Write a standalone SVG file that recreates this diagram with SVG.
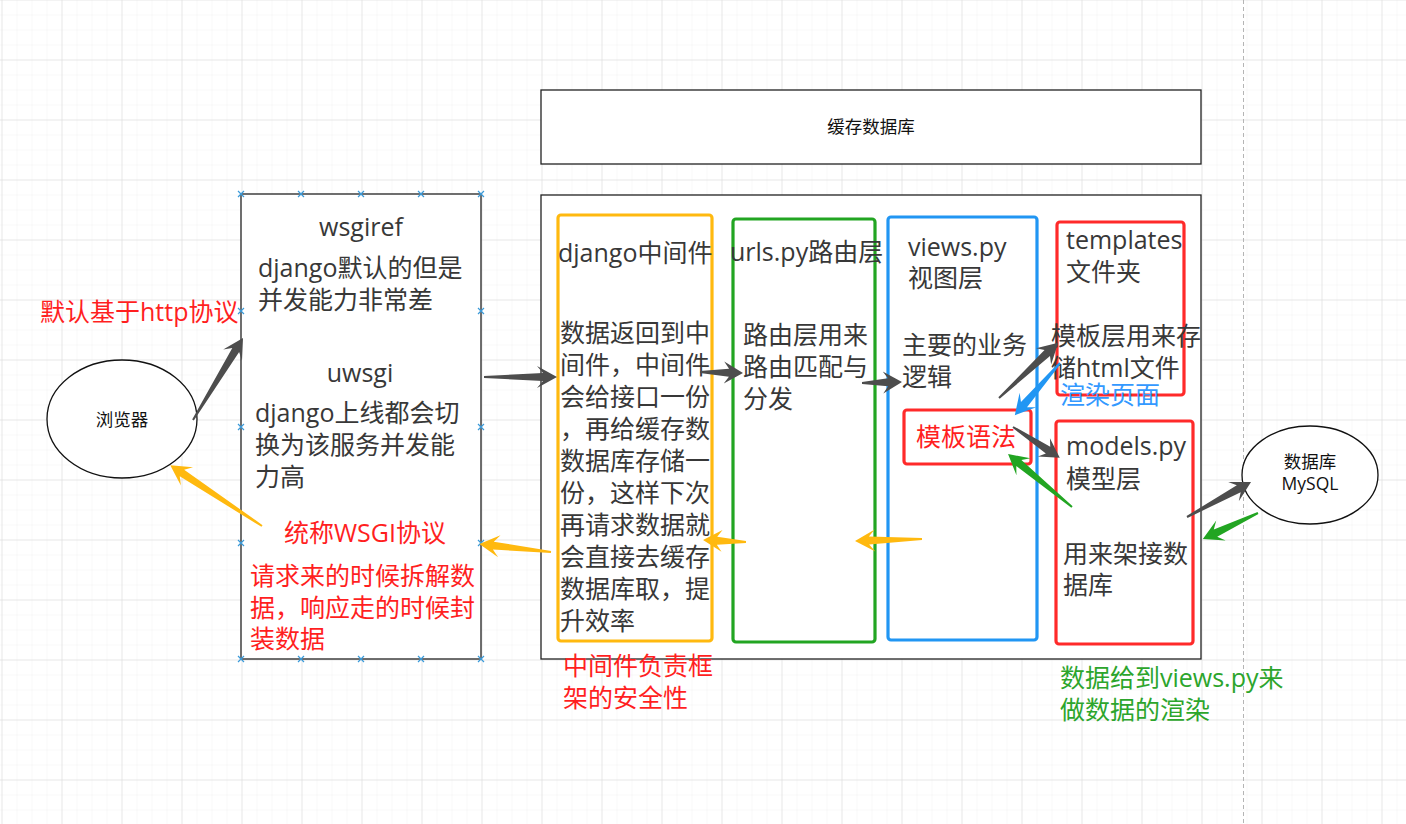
<svg xmlns="http://www.w3.org/2000/svg" width="1406" height="824" viewBox="0 0 1406 824">
<defs>
<pattern id="minor" width="15" height="15" patternUnits="userSpaceOnUse" x="1.5" y="-0.5"><path d="M0 0V15M0 0H15" stroke="#f1f1f1" stroke-width="1" fill="none"/></pattern>
<pattern id="major" width="60" height="60" patternUnits="userSpaceOnUse" x="1.5" y="-0.5"><path d="M0 0V60M0 0H60" stroke="#dadada" stroke-width="1" fill="none"/></pattern>
<path id="xm" d="M-3,-3L3,3M-3,3L3,-3" stroke="#3a9ad9" stroke-width="1.2"/>
</defs>
<style>
.t{font-family:"Open Sans","Noto Sans CJK SC",sans-serif;font-size:25px;fill:#383838}
.s{font-family:"Open Sans","Noto Sans CJK SC",sans-serif;font-size:17.5px;fill:#111}
.red{fill:#ff1f1f}
.grn{fill:#2ca52c}
.blu{fill:#3399ff}
.box{fill:#fff;stroke:#222;stroke-width:1.3}
.cb{fill:none;stroke-width:3.2}
.dark{fill:#4d4d4d}
.yel{fill:#ffb90f}
.ga{fill:#22a522}
.ba{fill:#2196f3}
</style>
<rect width="1406" height="824" fill="#fff"/>
<rect width="1406" height="824" fill="url(#minor)"/>
<rect width="1406" height="824" fill="url(#major)"/>
<line x1="1243.5" y1="0" x2="1243.5" y2="824" stroke="#b5b5b5" stroke-width="1" stroke-dasharray="4 3"/>

<g id="browser">
<ellipse cx="122" cy="419" rx="75" ry="59" fill="#fff" stroke="#111" stroke-width="1.3"/>
<text class="s" x="122" y="426" text-anchor="middle">浏览器</text>
</g>

<g id="wsgi">
<rect class="box" x="241" y="194" width="240" height="465"/>
<text class="t" x="361" y="236" text-anchor="middle">wsgiref</text>
<text class="t" x="258" y="277">django默认的但是</text>
<text class="t" x="258" y="309">并发能力非常差</text>
<text class="t" x="360" y="382" text-anchor="middle">uwsgi</text>
<text class="t" x="255" y="422">django上线都会切</text>
<text class="t" x="255" y="454">换为该服务并发能</text>
<text class="t" x="255" y="486">力高</text>
<text class="t red" x="365" y="542" text-anchor="middle">统称WSGI协议</text>
<text class="t red" x="250" y="585">请求来的时候拆解数</text>
<text class="t red" x="250" y="617">据，响应走的时候封</text>
<text class="t red" x="250" y="648">装数据</text>
<use href="#xm" x="241" y="194"/><use href="#xm" x="301" y="194"/><use href="#xm" x="361" y="194"/><use href="#xm" x="421" y="194"/><use href="#xm" x="481" y="194"/>
<use href="#xm" x="241" y="659"/><use href="#xm" x="301" y="659"/><use href="#xm" x="361" y="659"/><use href="#xm" x="421" y="659"/><use href="#xm" x="481" y="659"/>
<use href="#xm" x="241" y="311"/><use href="#xm" x="241" y="427"/><use href="#xm" x="241" y="543"/>
<use href="#xm" x="481" y="311"/><use href="#xm" x="481" y="427"/><use href="#xm" x="481" y="543"/>
</g>

<g id="http-label">
<text class="t red" x="40" y="321">默认基于http协议</text>
</g>

<g id="cache">
<rect class="box" x="541" y="90" width="660" height="74"/>
<text class="s" x="871" y="133" text-anchor="middle">缓存数据库</text>
</g>

<g id="django">
<rect class="box" x="541" y="195" width="660" height="464"/>
</g>

<g id="middleware">
<rect class="cb" x="558" y="215" width="154" height="426" rx="3" stroke="#ffb90f"/>
<text class="t" x="558" y="262">django中间件</text>
<text class="t" x="560" y="342">数据返回到中</text>
<text class="t" x="560" y="374">间件，中间件</text>
<text class="t" x="560" y="406">会给接口一份</text>
<text class="t" x="560" y="438">，再给缓存数</text>
<text class="t" x="560" y="470">数据库存储一</text>
<text class="t" x="560" y="502">份，这样下次</text>
<text class="t" x="560" y="534">再请求数据就</text>
<text class="t" x="560" y="566">会直接去缓存</text>
<text class="t" x="560" y="598">数据库取，提</text>
<text class="t" x="560" y="630">升效率</text>
<text class="t red" x="563" y="675">中间件负责框</text>
<text class="t red" x="563" y="707">架的安全性</text>
</g>

<g id="urls">
<rect class="cb" x="733" y="219" width="142" height="423" rx="3" stroke="#22a522"/>
<text class="t" x="730" y="261">urls.py路由层</text>
<text class="t" x="743" y="344">路由层用来</text>
<text class="t" x="743" y="376">路由匹配与</text>
<text class="t" x="743" y="408">分发</text>
</g>

<g id="views">
<rect class="cb" x="888" y="217" width="149" height="423" rx="3" stroke="#2196f3"/>
<text class="t" x="908" y="256">views.py</text>
<text class="t" x="908" y="287">视图层</text>
<text class="t" x="902" y="354">主要的业务</text>
<text class="t" x="902" y="386">逻辑</text>
</g>

<g id="templates">
<rect class="cb" x="1057" y="222" width="127" height="173" rx="3" stroke="#ff2a2a"/>
<text class="t" x="1066" y="249">templates</text>
<text class="t" x="1066" y="281">文件夹</text>
<text class="t" x="1051" y="345">模板层用来存</text>
<text class="t" x="1051" y="377">储html文件</text>
<text class="t blu" x="1060" y="404">渲染页面</text>
</g>

<g id="template-syntax">
<rect class="cb" x="904" y="410" width="127" height="54" rx="3" stroke="#ff2a2a"/>
<text class="t red" x="916" y="446">模板语法</text>
</g>

<g id="models">
<rect class="cb" x="1056" y="421" width="137" height="223" rx="3" stroke="#ff2a2a"/>
<text class="t" x="1066" y="455">models.py</text>
<text class="t" x="1066" y="488">模型层</text>
<text class="t" x="1063" y="563">用来架接数</text>
<text class="t" x="1063" y="594">据库</text>
<text class="t grn" x="1060" y="687">数据给到views.py来</text>
<text class="t grn" x="1060" y="719">做数据的渲染</text>
</g>

<g id="mysql">
<ellipse cx="1310" cy="475" rx="68" ry="49" fill="#fff" stroke="#111" stroke-width="1.3"/>
<text class="s" x="1310" y="468" text-anchor="middle">数据库</text>
<text class="s" x="1310" y="490" text-anchor="middle">MySQL</text>
</g>

<g id="connectors">
<path class="dark" transform="translate(193,420) rotate(-58.6)" d="M0,-1L82,-4L76,-11L96,0L76,11L82,4L0,1Z"/>
<path class="dark" transform="translate(484,377)" d="M0,-1L59,-4L53,-11L73,0L53,11L59,4L0,1Z"/>
<path class="dark" transform="translate(700,372) rotate(1.3)" d="M0,-1L29,-4L24,-11L43,0L24,11L29,4L0,1Z"/>
<path class="dark" transform="translate(862,383) rotate(-1.4)" d="M0,-1L26,-4L21,-11L40,0L21,11L26,4L0,1Z"/>
<path class="dark" transform="translate(999,398) rotate(-43)" d="M0,-1L66,-4L61,-11L81,0L61,11L66,4L0,1Z"/>
<path class="ba" transform="translate(1060,363) rotate(130.9)" d="M0,-1L55,-4L49,-11L69,0L49,11L55,4L0,1Z"/>
<path class="dark" transform="translate(1013,427) rotate(33.4)" d="M0,-1L42,-4L37,-11L56,0L37,11L42,4L0,1Z"/>
<path class="ga" transform="translate(1072,507) rotate(-140.4)" d="M0,-1L69,-4L63,-11L83,0L63,11L69,4L0,1Z"/>
<path class="dark" transform="translate(1187,517) rotate(-28.7)" d="M0,-1L59,-4L53,-11L73,0L53,11L59,4L0,1Z"/>
<path class="ga" transform="translate(1258,513) rotate(154.7)" d="M0,-1L47,-4L41,-11L61,0L41,11L47,4L0,1Z"/>
<path class="yel" transform="translate(922,539) rotate(178.3)" d="M0,-1L53,-4L47,-11L67,0L47,11L53,4L0,1Z"/>
<path class="yel" transform="translate(746,542) rotate(-177.3)" d="M0,-1L29,-4L24,-11L43,0L24,11L29,4L0,1Z"/>
<path class="yel" transform="translate(551,552) rotate(-173.7)" d="M0,-1L58,-4L52,-11L72,0L52,11L58,4L0,1Z"/>
<path class="yel" transform="translate(262,526) rotate(-146.5)" d="M0,-1L96,-4L90,-11L110,0L90,11L96,4L0,1Z"/>
</g>
</svg>
